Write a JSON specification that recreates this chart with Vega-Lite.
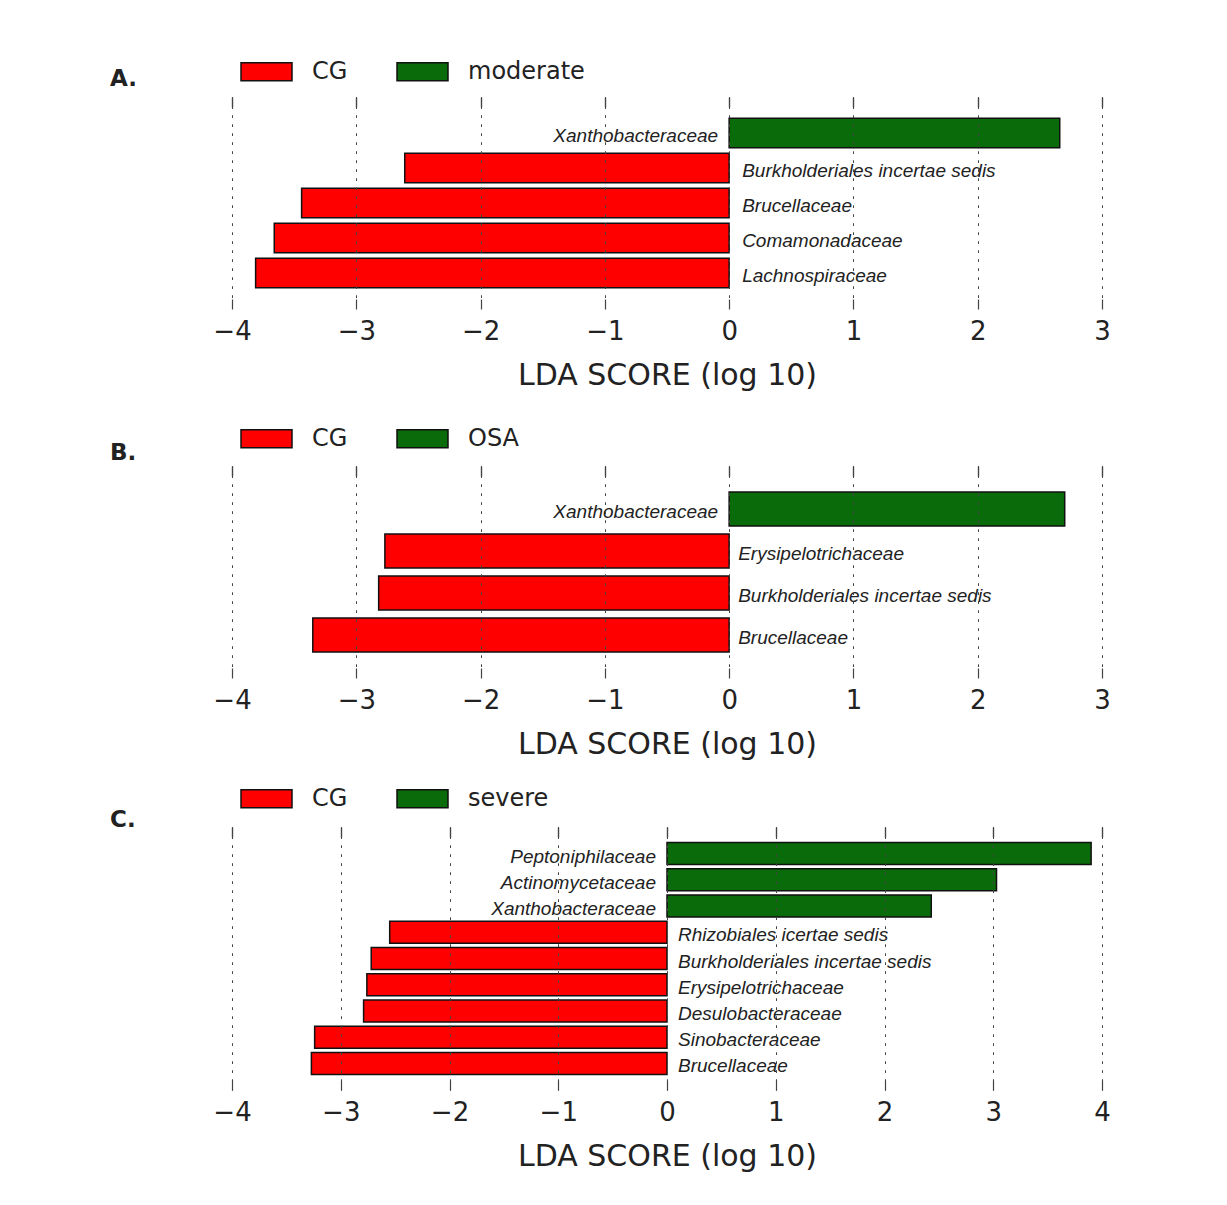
{
  "$schema": "https://vega.github.io/schema/vega-lite/v6.json",
  "background": "white",
  "padding": {"left": 110, "top": 45, "right": 20, "bottom": 10},
  "config": {
    "view": {"stroke": null},
    "axis": {
      "domain": false,
      "labelFlush": false,
      "labelFont": "DejaVu Sans",
      "labelFontSize": 26,
      "labelColor": "#222",
      "titleFont": "DejaVu Sans",
      "titleFontSize": 30,
      "titleFontWeight": "normal",
      "titleColor": "#222",
      "tickColor": "#444",
      "tickWidth": 1.2
    },
    "legend": {
      "orient": "none",
      "legendX": 8,
      "direction": "horizontal",
      "title": null,
      "symbolType": "M-1,-0.353H1V0.353H-1Z",
      "symbolSize": 2601,
      "symbolStrokeColor": "#111",
      "symbolStrokeWidth": 1.5,
      "symbolOpacity": 1,
      "labelFont": "DejaVu Sans",
      "labelFontSize": 24,
      "labelColor": "#222",
      "labelOffset": 19,
      "columnPadding": 46,
      "padding": 0
    },
    "title": {
      "anchor": "start",
      "frame": "group",
      "dx": -122,
      "baseline": "alphabetic",
      "font": "DejaVu Sans",
      "fontSize": 23,
      "fontWeight": "bold",
      "color": "#222"
    }
  },
  "datasets": {
    "A": [
      {"taxon": "Xanthobacteraceae", "score": 2.66, "group": "moderate"},
      {"taxon": "Burkholderiales incertae sedis", "score": -2.61, "group": "CG"},
      {"taxon": "Brucellaceae", "score": -3.44, "group": "CG"},
      {"taxon": "Comamonadaceae", "score": -3.66, "group": "CG"},
      {"taxon": "Lachnospiraceae", "score": -3.81, "group": "CG"}
    ],
    "B": [
      {"taxon": "Xanthobacteraceae", "score": 2.7, "group": "OSA"},
      {"taxon": "Erysipelotrichaceae", "score": -2.77, "group": "CG"},
      {"taxon": "Burkholderiales incertae sedis", "score": -2.82, "group": "CG"},
      {"taxon": "Brucellaceae", "score": -3.35, "group": "CG"}
    ],
    "C": [
      {"taxon": "Peptoniphilaceae", "score": 3.9, "group": "severe"},
      {"taxon": "Actinomycetaceae", "score": 3.03, "group": "severe"},
      {"taxon": "Xanthobacteraceae", "score": 2.43, "group": "severe"},
      {"taxon": "Rhizobiales icertae sedis", "score": -2.55, "group": "CG"},
      {"taxon": "Burkholderiales incertae sedis", "score": -2.72, "group": "CG"},
      {"taxon": "Erysipelotrichaceae", "score": -2.76, "group": "CG"},
      {"taxon": "Desulobacteraceae", "score": -2.79, "group": "CG"},
      {"taxon": "Sinobacteraceae", "score": -3.24, "group": "CG"},
      {"taxon": "Brucellaceae", "score": -3.27, "group": "CG"}
    ]
  },
  "spacing": 22,
  "resolve": {"scale": {"x": "independent", "y": "independent", "color": "independent"}, "legend": {"color": "independent"}},
  "vconcat": [
    {
      "data": {"name": "A"},
      "width": 870,
      "height": 212,
      "title": {"text": "A.", "offset": -46},
      "layer": [
        {
          "mark": {"type": "bar", "stroke": "#111", "strokeWidth": 1.5},
          "encoding": {
            "x": {"field": "score", "type": "quantitative", "scale": {"domain": [-4, 3], "nice": false, "zero": false},
              "axis": {"orient": "bottom", "offset": -10, "tickSize": 10, "values": [-4, -3, -2, -1, 0, 1, 2, 3], "grid": false, "labelPadding": 9, "title": "LDA SCORE (log 10)", "titlePadding": 16}},
            "y": {"field": "taxon", "type": "nominal", "sort": null, "axis": null, "scale": {"paddingInner": 0.16, "paddingOuter": 0.61}},
            "color": {"field": "group", "type": "nominal", "sort": null, "scale": {"domain": ["CG", "moderate"], "range": ["#ff0000", "#0a6b0a"]}, "legend": {"legendY": -52}}
          }
        },
        {
          "mark": {"type": "text", "align": "right", "dx": -11, "dy": 3, "font": "Liberation Sans", "fontStyle": "italic", "fontSize": 19, "color": "#222"},
          "encoding": {
            "x": {"datum": 0, "type": "quantitative", "axis": {"orient": "top", "offset": -10, "tickSize": 10, "values": [-4, -3, -2, -1, 0, 1, 2, 3], "labels": false, "grid": true, "gridDash": [2.5, 6.5], "gridColor": "#444", "zindex": 1, "title": null}},
            "y": {"field": "taxon", "type": "nominal", "sort": null},
            "text": {"condition": {"test": "datum.score > 0", "field": "taxon"}, "value": ""}
          }
        },
        {
          "mark": {"type": "text", "align": "left", "dx": 13, "dy": 3, "font": "Liberation Sans", "fontStyle": "italic", "fontSize": 19, "color": "#222"},
          "encoding": {
            "x": {"datum": 0, "type": "quantitative", "axis": {"orient": "top", "offset": -10, "tickSize": 10, "values": [-4, -3, -2, -1, 0, 1, 2, 3], "labels": false, "grid": true, "gridDash": [2.5, 6.5], "gridColor": "#444", "zindex": 1, "title": null}},
            "y": {"field": "taxon", "type": "nominal", "sort": null},
            "text": {"condition": {"test": "datum.score < 0", "field": "taxon"}, "value": ""}
          }
        }
      ]
    },
    {
      "spacing": 13,
      "resolve": {"scale": {"x": "independent", "y": "independent", "color": "independent"}, "legend": {"color": "independent"}},
      "vconcat": [
        {
          "data": {"name": "B"},
          "width": 870,
          "height": 212,
          "title": {"text": "B.", "offset": -53},
          "layer": [
            {
              "mark": {"type": "bar", "stroke": "#111", "strokeWidth": 1.5},
              "encoding": {
                "x": {"field": "score", "type": "quantitative", "scale": {"domain": [-4, 3], "nice": false, "zero": false},
                  "axis": {"orient": "bottom", "offset": -10, "tickSize": 10, "values": [-4, -3, -2, -1, 0, 1, 2, 3], "grid": false, "labelPadding": 9, "title": "LDA SCORE (log 10)", "titlePadding": 16}},
                "y": {"field": "taxon", "type": "nominal", "sort": null, "axis": null, "scale": {"paddingInner": 0.19, "paddingOuter": 0.62}},
                "color": {"field": "group", "type": "nominal", "sort": null, "scale": {"domain": ["CG", "OSA"], "range": ["#ff0000", "#0a6b0a"]}, "legend": {"legendY": -54}}
              }
            },
            {
              "mark": {"type": "text", "align": "right", "dx": -11, "dy": 3, "font": "Liberation Sans", "fontStyle": "italic", "fontSize": 19, "color": "#222"},
              "encoding": {
                "x": {"datum": 0, "type": "quantitative", "axis": {"orient": "top", "offset": -10, "tickSize": 10, "values": [-4, -3, -2, -1, 0, 1, 2, 3], "labels": false, "grid": true, "gridDash": [2.5, 6.5], "gridColor": "#444", "zindex": 1, "title": null}},
                "y": {"field": "taxon", "type": "nominal", "sort": null},
                "text": {"condition": {"test": "datum.score > 0", "field": "taxon"}, "value": ""}
              }
            },
            {
              "mark": {"type": "text", "align": "left", "dx": 9, "dy": 3, "font": "Liberation Sans", "fontStyle": "italic", "fontSize": 19, "color": "#222"},
              "encoding": {
                "x": {"datum": 0, "type": "quantitative", "axis": {"orient": "top", "offset": -10, "tickSize": 10, "values": [-4, -3, -2, -1, 0, 1, 2, 3], "labels": false, "grid": true, "gridDash": [2.5, 6.5], "gridColor": "#444", "zindex": 1, "title": null}},
                "y": {"field": "taxon", "type": "nominal", "sort": null},
                "text": {"condition": {"test": "datum.score < 0", "field": "taxon"}, "value": ""}
              }
            }
          ]
        },
        {
          "data": {"name": "C"},
          "width": 870,
          "height": 263,
          "title": {"text": "C.", "offset": -60},
          "layer": [
            {
              "mark": {"type": "bar", "stroke": "#111", "strokeWidth": 1.5},
              "encoding": {
                "x": {"field": "score", "type": "quantitative", "scale": {"domain": [-4, 4], "nice": false, "zero": false},
                  "axis": {"orient": "bottom", "offset": -10, "tickSize": 10, "values": [-4, -3, -2, -1, 0, 1, 2, 3, 4], "grid": false, "labelPadding": 9, "title": "LDA SCORE (log 10)", "titlePadding": 16}},
                "y": {"field": "taxon", "type": "nominal", "sort": null, "axis": null, "scale": {"paddingInner": 0.16, "paddingOuter": 0.59}},
                "color": {"field": "group", "type": "nominal", "sort": null, "scale": {"domain": ["CG", "severe"], "range": ["#ff0000", "#0a6b0a"]}, "legend": {"legendY": -55}}
              }
            },
            {
              "mark": {"type": "text", "align": "right", "dx": -11, "dy": 3, "font": "Liberation Sans", "fontStyle": "italic", "fontSize": 19, "color": "#222"},
              "encoding": {
                "x": {"datum": 0, "type": "quantitative", "axis": {"orient": "top", "offset": -10, "tickSize": 10, "values": [-4, -3, -2, -1, 0, 1, 2, 3, 4], "labels": false, "grid": true, "gridDash": [2.5, 6.5], "gridColor": "#444", "zindex": 1, "title": null}},
                "y": {"field": "taxon", "type": "nominal", "sort": null},
                "text": {"condition": {"test": "datum.score > 0", "field": "taxon"}, "value": ""}
              }
            },
            {
              "mark": {"type": "text", "align": "left", "dx": 11, "dy": 3, "font": "Liberation Sans", "fontStyle": "italic", "fontSize": 19, "color": "#222"},
              "encoding": {
                "x": {"datum": 0, "type": "quantitative", "axis": {"orient": "top", "offset": -10, "tickSize": 10, "values": [-4, -3, -2, -1, 0, 1, 2, 3, 4], "labels": false, "grid": true, "gridDash": [2.5, 6.5], "gridColor": "#444", "zindex": 1, "title": null}},
                "y": {"field": "taxon", "type": "nominal", "sort": null},
                "text": {"condition": {"test": "datum.score < 0", "field": "taxon"}, "value": ""}
              }
            }
          ]
        }
      ]
    }
  ]
}
